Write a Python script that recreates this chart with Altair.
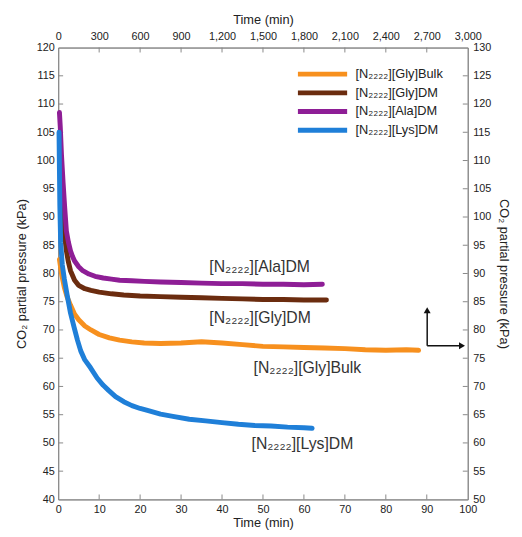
import altair as alt
import pandas as pd

# ---------------- data ----------------
names = ["[N₂₂₂₂][Gly]Bulk", "[N₂₂₂₂][Gly]DM", "[N₂₂₂₂][Ala]DM", "[N₂₂₂₂][Lys]DM"]
colors = ["#F7901E", "#6B2C0F", "#8E1E96", "#1F7FD8"]

bulk_t = [0.3, 0.8, 1.5, 2.2, 3.0, 4.0, 5.0, 6.5, 8, 10, 12.5, 15, 18, 21, 25, 30, 35, 40, 45, 50, 55, 60, 65, 70, 75, 80, 85, 88]
bulk_v = [82.5, 80, 77.5, 75.8, 74.4, 72.8, 71.8, 70.7, 70.0, 69.2, 68.6, 68.2, 67.9, 67.7, 67.6, 67.7, 67.9, 67.7, 67.4, 67.1, 67.0, 66.9, 66.8, 66.7, 66.5, 66.4, 66.5, 66.4]

glydm_t = [0.3, 0.5, 0.8, 1.2, 1.6, 2.0, 2.5, 3.0, 4.0, 5.0, 6.5, 8, 10, 13, 16, 20, 25, 30, 35, 40, 45, 50, 55, 60, 65.5]
glydm_v = [104, 100, 95, 90, 86.5, 84, 82, 80.5, 78.8, 77.9, 77.3, 77.0, 76.7, 76.4, 76.2, 76.0, 75.9, 75.8, 75.7, 75.6, 75.5, 75.4, 75.4, 75.3, 75.3]

ala_t = [0.3, 0.5, 0.8, 1.2, 1.6, 2.0, 2.5, 3.0, 3.5, 4.0, 5.0, 6.0, 7.5, 9, 11, 13, 15, 18, 21, 25, 30, 35, 40, 45, 50, 55, 60, 64.5]
ala_v = [108.5, 106, 101, 96, 91.5, 87.5, 85.5, 84.0, 83.0, 82.2, 81.2, 80.5, 79.9, 79.5, 79.2, 79.0, 78.8, 78.7, 78.6, 78.5, 78.4, 78.3, 78.2, 78.2, 78.1, 78.1, 78.0, 78.1]

lys_t = [0.2, 0.4, 0.6, 1.0, 1.5, 2.2, 3.0, 3.9, 4.7, 5.5, 6.5, 7.9, 9.5, 11, 12.3, 14, 16, 18, 20, 22, 25, 28, 32, 36, 40, 44, 48, 52, 56, 60, 62]
lys_v = [105, 92, 85.5, 81.5, 79, 76.1, 73, 70.4, 68.2, 66.3, 64.7, 63.3, 61.5, 60.2, 59.3, 58.2, 57.3, 56.6, 56.1, 55.7, 55.1, 54.7, 54.2, 53.9, 53.6, 53.3, 53.1, 53.0, 52.8, 52.7, 52.6]

# inline labels
label_text = names
label_x = [47.7, 36.9, 36.9, 47.2]
label_y = [63.3, 72.1, 81.2, 49.8]

# axes
x_bottom_domain = [0, 100]
y_left_domain = [40, 120]
x_top_domain = [0, 3000]
y_right_domain = [50, 130]
x_bottom_ticks = list(range(0, 101, 10))
y_left_ticks = list(range(40, 121, 5))
x_top_ticks = list(range(0, 3001, 300))
y_right_ticks = list(range(50, 131, 5))

# arrow (in bottom/left data units)
arrow_x = 90.1
arrow_y = 67.2
arrow_y_tip = 73.5
arrow_x_tip = 98.6

W, H = 416, 459
FONT = "Liberation Sans"

# ---------------- build tables ----------------
rows = []
for n, ts, vs in [(names[0], bulk_t, bulk_v), (names[1], glydm_t, glydm_v),
                  (names[2], ala_t, ala_v), (names[3], lys_t, lys_v)]:
    for t, v in zip(ts, vs):
        rows.append({"series": n, "t": t, "p": v})
df = pd.DataFrame(rows)
lab_df = pd.DataFrame({"label": label_text, "x": label_x, "y": label_y})

xb = alt.Scale(domain=x_bottom_domain, nice=False, zero=False)
yl = alt.Scale(domain=y_left_domain, nice=False, zero=False)
xt = alt.Scale(domain=x_top_domain, nice=False, zero=False)
yr = alt.Scale(domain=y_right_domain, nice=False, zero=False)

y_title = "CO₂ partial pressure (kPa)"

ax_bottom = alt.Axis(title="Time (min)", orient="bottom", values=x_bottom_ticks, format="d",
                     labelPadding=4, titlePadding=3, labelOverlap=False, labelFlush=False)
ax_left = alt.Axis(title=y_title, orient="left", values=y_left_ticks, format="d",
                   labelPadding=4, titlePadding=8, labelOverlap=False, labelFlush=False)
ax_top = alt.Axis(title="Time (min)", orient="top", values=x_top_ticks, format=",d",
                  labelPadding=6, titlePadding=4, labelOverlap=False, labelFlush=False)
ax_right = alt.Axis(title=y_title, orient="right", values=y_right_ticks, format="d",
                    labelPadding=5, titlePadding=6, labelOverlap=False, labelFlush=False)

lines = alt.Chart(df).mark_line(strokeWidth=5, strokeCap="round", strokeJoin="round").encode(
    x=alt.X("t:Q", scale=xb, axis=ax_bottom),
    y=alt.Y("p:Q", scale=yl, axis=ax_left),
    color=alt.Color("series:N", scale=alt.Scale(domain=names, range=colors),
                    legend=alt.Legend(title=None, orient="none", legendX=241, legendY=19,
                                      symbolType="stroke", symbolSize=2500, symbolStrokeWidth=5,
                                      clipHeight=16, rowPadding=3, labelFontSize=13, labelFont=FONT,
                                      labelColor="#222", labelOffset=6, padding=0)),
    order=alt.Order("t:Q"),
)

labels = alt.Chart(lab_df).mark_text(align="left", baseline="middle", fontSize=16, font=FONT,
                                     color="#333").encode(
    x=alt.X("x:Q", scale=xb, axis=ax_bottom), y=alt.Y("y:Q", scale=yl, axis=ax_left), text="label:N")

ltick_df = pd.DataFrame({"v": y_left_ticks[1:-1]})
left_ticks = alt.Chart(ltick_df).mark_rule(color="#888", strokeWidth=1).encode(
    y=alt.Y("v:Q", scale=yl, axis=ax_left), x=alt.value(0), x2=alt.value(5))
btick_df = pd.DataFrame({"v": x_bottom_ticks[1:-1]})
bottom_ticks = alt.Chart(btick_df).mark_rule(color="#888", strokeWidth=1).encode(
    x=alt.X("v:Q", scale=xb, axis=ax_bottom), y=alt.value(H), y2=alt.value(H - 5))

arrow_df = pd.DataFrame({"x": [arrow_x], "y": [arrow_y], "yt": [arrow_y_tip], "xt": [arrow_x_tip]})
arrow_v = alt.Chart(arrow_df).mark_rule(color="#111", strokeWidth=1.5).encode(
    x=alt.X("x:Q", scale=xb, axis=ax_bottom), y=alt.Y("y:Q", scale=yl, axis=ax_left), y2="yt:Q")
arrow_h = alt.Chart(arrow_df).mark_rule(color="#111", strokeWidth=1.5).encode(
    x=alt.X("x:Q", scale=xb, axis=ax_bottom), x2="xt:Q", y=alt.Y("y:Q", scale=yl, axis=ax_left))
head_up = alt.Chart(arrow_df).mark_point(shape="triangle-up", filled=True, color="#111", size=50, opacity=1).encode(
    x=alt.X("x:Q", scale=xb, axis=ax_bottom), y=alt.Y("yt:Q", scale=yl, axis=ax_left))
head_right = alt.Chart(arrow_df).mark_point(shape="triangle-right", filled=True, color="#111", size=50, opacity=1).encode(
    x=alt.X("xt:Q", scale=xb, axis=ax_bottom), y=alt.Y("y:Q", scale=yl, axis=ax_left))

left_group = alt.layer(left_ticks, bottom_ticks, lines, labels, arrow_v, arrow_h, head_up, head_right)

# right / top axes
dummy_df = pd.DataFrame({"tx": x_top_domain, "ry": y_right_domain})
dummy = alt.Chart(dummy_df).mark_point(opacity=0).encode(
    x=alt.X("tx:Q", scale=xt, axis=ax_top),
    y=alt.Y("ry:Q", scale=yr, axis=ax_right),
)
rtick_df = pd.DataFrame({"v": y_right_ticks[1:-1]})
right_ticks = alt.Chart(rtick_df).mark_rule(color="#888", strokeWidth=1).encode(
    y=alt.Y("v:Q", scale=yr, axis=ax_right), x=alt.value(W - 5), x2=alt.value(W))
ttick_df = pd.DataFrame({"v": x_top_ticks[1:-1]})
top_ticks = alt.Chart(ttick_df).mark_rule(color="#888", strokeWidth=1).encode(
    x=alt.X("v:Q", scale=xt, axis=ax_top), y=alt.value(0), y2=alt.value(5))

right_group = alt.layer(dummy, right_ticks, top_ticks)

chart = alt.layer(left_group, right_group).resolve_scale(
    x="independent", y="independent"
).properties(
    width=W, height=H,
    autosize=alt.AutoSizeParams(type="none"),
    padding={"left": 51, "top": 36, "right": 47, "bottom": 34},
).configure_view(
    stroke="#888", strokeWidth=1
).configure_axis(
    tickSize=0, domainColor="#888", domainWidth=1, grid=False,
    labelFont=FONT, labelFontSize=11, labelColor="#222",
    titleFont=FONT, titleFontSize=13, titleFontWeight="normal", titleColor="#222",
)

chart.save("out.html", embed_options={"renderer": "svg", "actions": False})
